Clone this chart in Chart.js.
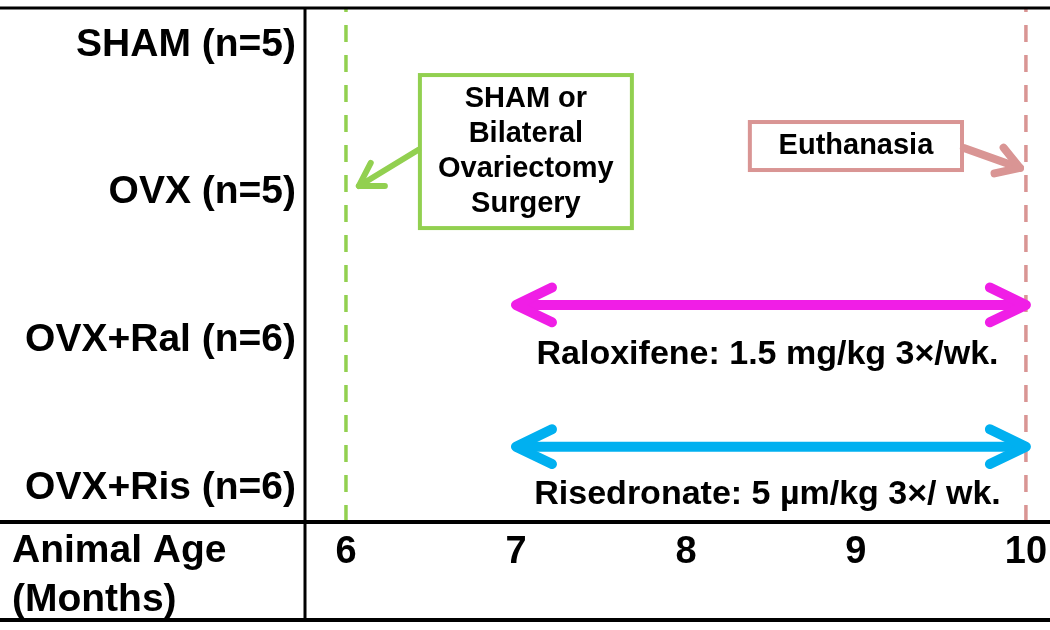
<!DOCTYPE html>
<html>
<head>
<meta charset="utf-8">
<script src="https://cdn.jsdelivr.net/npm/chart.js@4.4.1/dist/chart.umd.min.js"></script>
<style>
  html, body { margin: 0; padding: 0; background: #fff; }
  #wrap { width: 1050px; height: 630px; }
</style>
</head>
<body>
<div id="wrap"><canvas id="timeline"></canvas></div>
<script>
// data
const months = [6, 7, 8, 9, 10];
const groups = ['SHAM (n=5)', 'OVX (n=5)', 'OVX+Ral (n=6)', 'OVX+Ris (n=6)'];
const groupRows = [4, 3, 2, 1];
const surgeryAge = 6;
const euthanasiaAge = 10;
const raloxifeneMonths = [7, 10];
const risedronateMonths = [7, 10];
const raloxifeneLabel = 'Raloxifene: 1.5 mg/kg 3×/wk.';
const risedronateLabel = 'Risedronate: 5 µm/kg 3×/ wk.';
const surgeryLabel = ['SHAM or', 'Bilateral', 'Ovariectomy', 'Surgery'];
const euthanasiaLabel = ['Euthanasia'];
const axisTitle = ['Animal Age', '(Months)'];

// placement, in axis units
const yMin = 0.77, yMax = 4.25;
const ralY = 2.24, risY = 1.28;

const GREEN = '#92D050';
const PINK = '#D99594';
const MAGENTA = '#F01EE6';
const CYAN = '#00B0F0';
const FONT = '"Liberation Sans", Arial, sans-serif';

Chart.defaults.font.family = FONT;
Chart.defaults.color = '#000';

const notes = [
  { box: [6.435, 7.682, 3.796, 2.760], color: GREEN, lines: surgeryLabel,
    arrow: [[6.424, 3.289], [6.076, 3.045]], arrowWidth: 6 },
  { box: [8.376, 9.624, 3.478, 3.153], color: PINK, lines: euthanasiaLabel,
    arrow: [[9.635, 3.302], [9.965, 3.167]], arrowWidth: 8 }
];
const doseText = [
  { text: raloxifeneLabel, x: 8.48, y: 1.90 },
  { text: risedronateLabel, x: 8.48, y: 0.953 }
];

function chevron(ctx, tip, from, len, spread, color, width) {
  const a = Math.atan2(tip.y - from.y, tip.x - from.x);
  ctx.save();
  ctx.strokeStyle = color;
  ctx.lineWidth = width;
  ctx.lineCap = 'round';
  ctx.lineJoin = 'round';
  ctx.beginPath();
  ctx.moveTo(tip.x - len * Math.cos(a - spread), tip.y - len * Math.sin(a - spread));
  ctx.lineTo(tip.x, tip.y);
  ctx.lineTo(tip.x - len * Math.cos(a + spread), tip.y - len * Math.sin(a + spread));
  ctx.stroke();
  ctx.restore();
}

const timelinePlugin = {
  id: 'timeline',
  afterDatasetsDraw(chart) {
    const ctx = chart.ctx;
    const xs = chart.scales.x, ys = chart.scales.y;
    const px = v => xs.getPixelForValue(v);
    const py = v => ys.getPixelForValue(v);

    // double-headed treatment arrows
    chart.data.datasets.forEach((ds, i) => {
      if (!ds.arrows) return;
      const pts = chart.getDatasetMeta(i).data;
      const a = pts[0], b = pts[pts.length - 1];
      chevron(ctx, a, b, 40, 0.45, ds.borderColor, ds.borderWidth);
      chevron(ctx, b, a, 40, 0.45, ds.borderColor, ds.borderWidth);
    });

    // boxes with pointer arrows
    notes.forEach(n => {
      const l = px(n.box[0]), r = px(n.box[1]), t = py(n.box[2]), b = py(n.box[3]);
      ctx.save();
      ctx.fillStyle = '#fff';
      ctx.fillRect(l, t, r - l, b - t);
      ctx.strokeStyle = n.color;
      ctx.lineWidth = 4;
      ctx.strokeRect(l, t, r - l, b - t);
      ctx.fillStyle = '#000';
      ctx.font = 'bold 29px ' + FONT;
      ctx.textAlign = 'center';
      ctx.textBaseline = 'middle';
      const lh = 35;
      const cy = (t + b) / 2;
      n.lines.forEach((s, k) => {
        ctx.fillText(s, (l + r) / 2, cy + (k - (n.lines.length - 1) / 2) * lh);
      });
      const s = { x: px(n.arrow[0][0]), y: py(n.arrow[0][1]) };
      const e = { x: px(n.arrow[1][0]), y: py(n.arrow[1][1]) };
      ctx.strokeStyle = n.color;
      ctx.lineWidth = n.arrowWidth;
      ctx.lineCap = 'round';
      ctx.beginPath();
      ctx.moveTo(s.x, s.y);
      ctx.lineTo(e.x, e.y);
      ctx.stroke();
      ctx.restore();
      chevron(ctx, e, s, 26, 0.55, n.color, n.arrowWidth);
    });

    // dose labels
    ctx.save();
    ctx.fillStyle = '#000';
    ctx.font = 'bold 34px ' + FONT;
    ctx.textAlign = 'center';
    ctx.textBaseline = 'middle';
    doseText.forEach(d => ctx.fillText(d.text, px(d.x), py(d.y)));
    ctx.restore();
  },
  afterDraw(chart) {
    const ctx = chart.ctx;
    const area = chart.chartArea;
    const W = chart.width;
    ctx.save();
    ctx.strokeStyle = '#000';
    ctx.lineWidth = 3;
    ctx.beginPath();
    ctx.moveTo(0, area.top); ctx.lineTo(W, area.top);
    ctx.moveTo(area.left, area.top); ctx.lineTo(area.left, 622);
    ctx.stroke();
    ctx.lineWidth = 4;
    ctx.beginPath();
    ctx.moveTo(0, area.bottom); ctx.lineTo(W, area.bottom);
    ctx.moveTo(0, 620); ctx.lineTo(W, 620);
    ctx.stroke();
    ctx.fillStyle = '#000';
    ctx.font = 'bold 39px ' + FONT;
    ctx.textAlign = 'left';
    ctx.textBaseline = 'middle';
    ctx.fillText(axisTitle[0], 12, area.bottom + 29);
    ctx.fillText(axisTitle[1], 12, area.bottom + 78);
    ctx.restore();
  }
};

new Chart(document.getElementById('timeline'), {
  type: 'line',
  data: {
    datasets: [
      {
        label: 'Raloxifene',
        data: raloxifeneMonths.map(m => ({ x: m, y: ralY })),
        borderColor: MAGENTA, borderWidth: 10, borderCapStyle: 'butt',
        pointRadius: 0, arrows: true, order: 1
      },
      {
        label: 'Risedronate',
        data: risedronateMonths.map(m => ({ x: m, y: risY })),
        borderColor: CYAN, borderWidth: 10, borderCapStyle: 'butt',
        pointRadius: 0, arrows: true, order: 2
      },
      {
        label: 'Surgery',
        data: [{ x: surgeryAge, y: yMin }, { x: surgeryAge, y: yMax }],
        borderColor: GREEN, borderWidth: 3.5, borderDash: [17, 13],
        pointRadius: 0, order: 3
      },
      {
        label: 'Euthanasia',
        data: [{ x: euthanasiaAge, y: yMin }, { x: euthanasiaAge, y: yMax }],
        borderColor: PINK, borderWidth: 3.5, borderDash: [17, 13],
        pointRadius: 0, order: 4
      }
    ]
  },
  options: {
    responsive: true,
    maintainAspectRatio: false,
    animation: false,
    layout: { padding: { top: 8, right: 3, left: 0, bottom: 0 } },
    plugins: { legend: { display: false }, tooltip: { enabled: false } },
    scales: {
      x: {
        type: 'linear',
        min: 5.759,
        max: 10.124,
        grid: { display: false, drawTicks: false },
        border: { display: false },
        afterBuildTicks: s => { s.ticks = months.map(v => ({ value: v })); },
        afterFit: s => { s.height = 108; s.paddingLeft = 0; s.paddingRight = 0; },
        ticks: {
          autoSkip: false, maxRotation: 0, padding: 8,
          font: { size: 38, weight: 'bold' }
        }
      },
      y: {
        type: 'linear',
        min: yMin,
        max: yMax,
        grid: { display: false, drawTicks: false },
        border: { display: false },
        afterBuildTicks: s => { s.ticks = groupRows.map(v => ({ value: v })); },
        afterFit: s => { s.width = 305; s.paddingTop = 0; s.paddingBottom = 0; },
        ticks: {
          autoSkip: false, padding: 9,
          font: { size: 39, weight: 'bold' },
          callback: v => groups[groupRows.indexOf(v)]
        }
      }
    }
  },
  plugins: [timelinePlugin]
});
</script>
</body>
</html>
